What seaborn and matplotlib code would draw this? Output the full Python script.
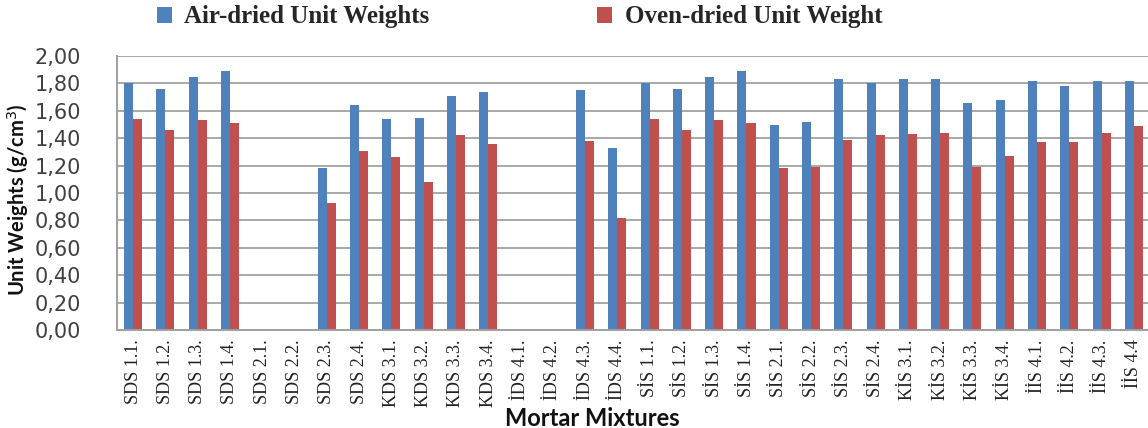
import numpy as np
import pandas as pd
import matplotlib
matplotlib.use("Agg")
import matplotlib.pyplot as plt
from matplotlib.ticker import FuncFormatter, MultipleLocator
from matplotlib.patches import Patch
import seaborn as sns

# Mortar mixture codes (x categories)
mixtures = [
    "SDS 1.1.", "SDS 1.2.", "SDS 1.3.", "SDS 1.4.",
    "SDS 2.1.", "SDS 2.2.", "SDS 2.3.", "SDS 2.4.",
    "KDS 3.1.", "KDS 3.2.", "KDS 3.3.", "KDS 3.4.",
    "İDS 4.1.", "İDS 4.2.", "İDS 4.3.", "İDS 4.4.",
    "SİS 1.1.", "SİS 1.2.", "SİS 1.3.", "SİS 1.4.",
    "SİS 2.1.", "SİS 2.2.", "SİS 2.3.", "SİS 2.4.",
    "KİS 3.1.", "KİS 3.2.", "KİS 3.3.", "KİS 3.4.",
    "İİS 4.1.", "İİS 4.2.", "İİS 4.3.", "İİS 4.4",
]

# Unit weights in g/cm3 (NaN = not measured)
air_dried = [
    1.80, 1.76, 1.85, 1.89,
    np.nan, np.nan, 1.18, 1.64,
    1.54, 1.55, 1.71, 1.74,
    np.nan, np.nan, 1.75, 1.33,
    1.80, 1.76, 1.85, 1.89,
    1.50, 1.52, 1.83, 1.80,
    1.83, 1.83, 1.66, 1.68,
    1.82, 1.78, 1.82, 1.82,
]
oven_dried = [
    1.54, 1.46, 1.53, 1.51,
    np.nan, np.nan, 0.93, 1.31,
    1.26, 1.08, 1.42, 1.36,
    np.nan, np.nan, 1.38, 0.82,
    1.54, 1.46, 1.53, 1.51,
    1.18, 1.19, 1.39, 1.42,
    1.43, 1.44, 1.19, 1.27,
    1.37, 1.37, 1.44, 1.49,
]

series_names = ["Air-dried Unit Weights", "Oven-dried Unit Weight"]
series_colors = ["#4F81BD", "#C0504D"]

df = pd.DataFrame({
    "Mixture": mixtures * 2,
    "Series": [series_names[0]] * len(mixtures) + [series_names[1]] * len(mixtures),
    "Weight": air_dried + oven_dried,
})

sns.set_style("white")
plt.rcParams["font.family"] = ["DejaVu Sans"]

fig = plt.figure(figsize=(11.48, 4.28), dpi=100)
W, H = 1148, 428
x0, x1, y0, y1 = 117, 1150, 330, 56
ax = fig.add_axes([x0 / W, (H - y0) / H, (x1 - x0) / W, (y0 - y1) / H])

sns.barplot(
    data=df, x="Mixture", y="Weight", hue="Series",
    order=mixtures, hue_order=series_names,
    palette=series_colors, width=0.56, gap=0,
    saturation=1, ax=ax, legend=False, errorbar=None,
    linewidth=0, edgecolor="none",
)

ax.set_xlim(-0.5, len(mixtures) - 0.5)
ax.set_ylim(0, 2.0)
ax.yaxis.set_major_locator(MultipleLocator(0.2))
ax.yaxis.set_major_formatter(FuncFormatter(lambda v, p: f"{v:.2f}".replace(".", ",")))
ax.grid(axis="y", color="#a8a8a8", linewidth=1.4)
ax.set_axisbelow(True)

for side in ("top", "right"):
    ax.spines[side].set_visible(False)
for side in ("left", "bottom"):
    ax.spines[side].set_color("#a0a0a0")
    ax.spines[side].set_linewidth(1.4)

ax.tick_params(axis="y", length=8, width=1.4, color="#a0a0a0", pad=18,
               labelsize=15, labelcolor="#404040")
ax.tick_params(axis="x", length=0, pad=7)
ax.set_xticks(range(len(mixtures)))
ax.set_xticklabels(mixtures, rotation=90, ha="center", va="top",
                   family="Liberation Serif", fontsize=13, color="#222222")

ax.set_xlabel("Mortar Mixtures", family="Lato", fontweight="bold",
              fontsize=17, color="#111111")
ax.xaxis.set_label_coords((592 - x0) / (x1 - x0), -(407 - y0) / (y0 - y1))
ax.set_ylabel("Unit Weights (g/cm$^3$)", family="Lato", fontweight="bold",
              fontsize=14.5, color="#111111")
ax.yaxis.set_label_coords(-(117 - 31) / (x1 - x0), (330 - 200) / (y0 - y1))

handles = [Patch(facecolor=c, edgecolor="none") for c in series_colors]
fig.legend(handles, series_names, loc="center left",
           bbox_to_anchor=(147 / W, 1 - 17 / H), ncol=2, frameon=False,
           prop={"family": "Liberation Serif", "weight": "bold", "size": 18},
           handlelength=0.6, handleheight=0.6, handletextpad=0.5,
           columnspacing=6.7, borderaxespad=0)

fig.savefig("out.png", dpi=100)
